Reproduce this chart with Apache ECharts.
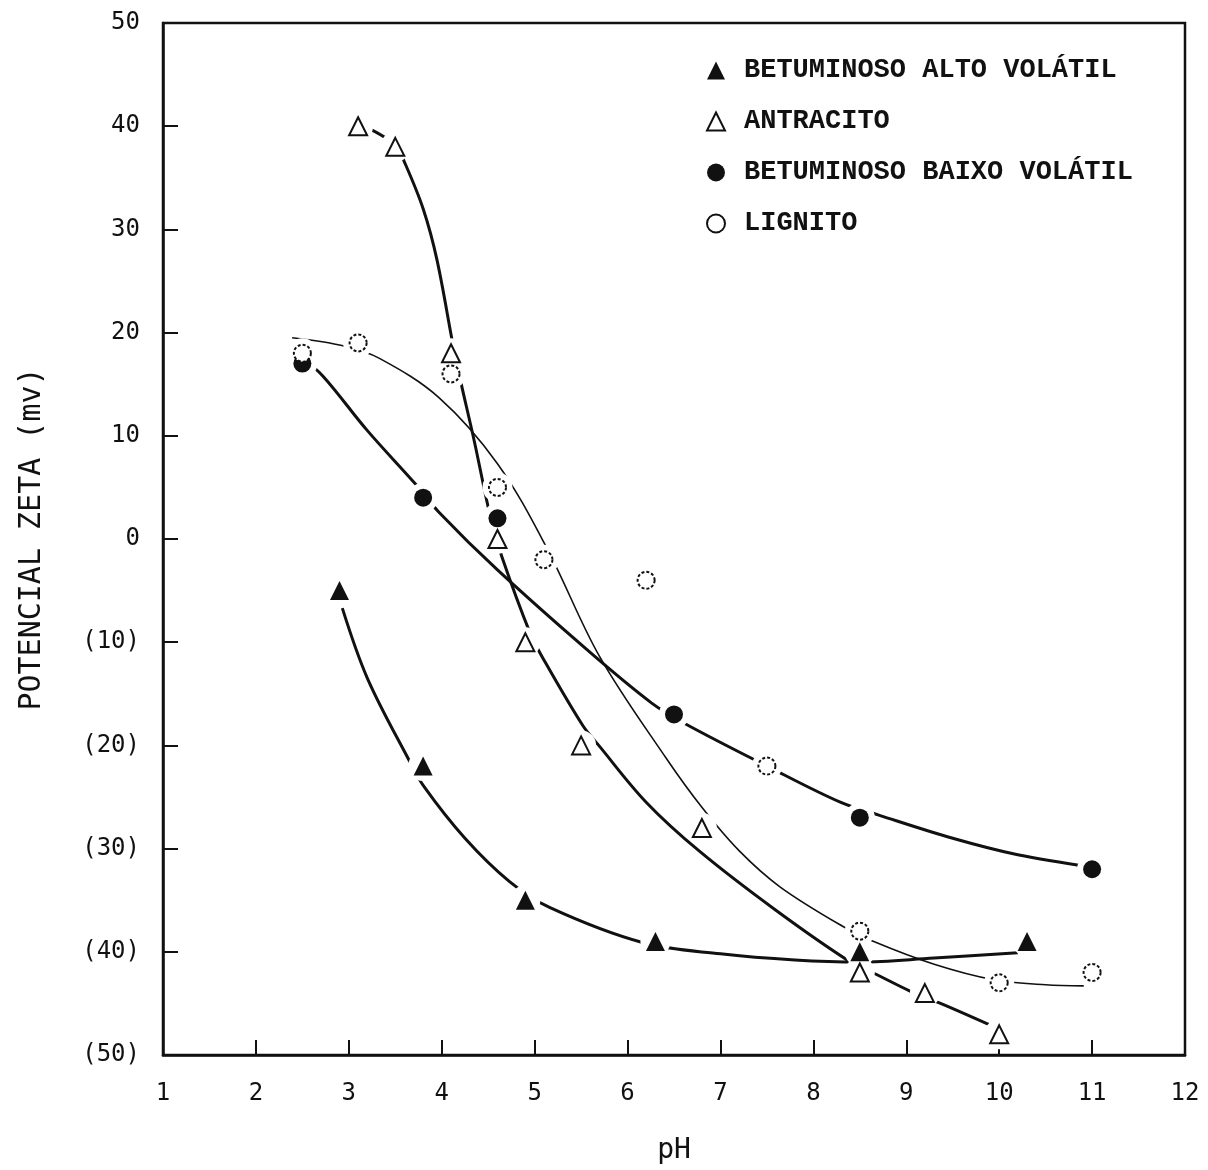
<!DOCTYPE html>
<html>
<head>
<meta charset="utf-8">
<script src="https://cdn.jsdelivr.net/npm/echarts@6/dist/echarts.min.js"></script>
<style>
  html, body { margin: 0; padding: 0; background: #fff; }
  #chart { width: 1208px; height: 1170px; }
</style>
</head>
<body>
<div id="chart"></div>
<script>
// pontos medidos (pH, potencial zeta em mV)
var altoPts = [[2.9, -5], [3.8, -22], [4.9, -35], [6.3, -39], [8.5, -40], [10.3, -39]];
var antracitoPts = [[3.1, 40], [3.5, 38], [4.1, 18], [4.6, 0], [4.9, -10], [5.5, -20], [6.8, -28], [8.5, -42], [9.2, -44], [10, -48]];
var baixoPts = [[2.5, 17], [3.8, 4], [4.6, 2], [6.5, -17], [8.5, -27], [11, -32]];
var lignitoPts = [[2.5, 18], [3.1, 19], [4.1, 16], [4.6, 5], [5.1, -2], [6.2, -4], [7.5, -22], [8.5, -38], [10, -43], [11, -42]];

// curvas ajustadas
var altoCurve = [[2.93, -6.7], [3.2, -13.5], [3.64, -21.3], [3.81, -24], [4.25, -29], [4.73, -33.2], [5.16, -35.7], [6.16, -39.1], [7, -40.2], [7.8, -40.8], [8.5, -41], [9.3, -40.6], [10.2, -40.1]];
var antracitoCurve = [[3.1, 40.3], [3.5, 38.2], [3.6, 36.5], [3.8, 32], [3.95, 27], [4.15, 17.5], [4.35, 9.5], [4.53, 1.9], [4.65, -1.8], [4.95, -9.1], [5.08, -11.4], [5.52, -18.1], [5.69, -20], [6.2, -25.5], [6.78, -30.3], [7.6, -36], [8.4, -41], [8.68, -42.2], [9.04, -43.8], [9.42, -45.2], [10, -47.5]];
var baixoCurve = [[2.5, 17.5], [2.72, 15.8], [3.2, 10.5], [3.73, 5.2], [3.97, 2.6], [4.6, -3], [5.56, -10.7], [6.26, -15.9], [6.62, -17.9], [7.5, -22], [8.29, -25.5], [8.72, -26.8], [9.5, -29], [10.2, -30.6], [11, -31.8]];
var lignitoCurve = [[2.39, 19.5], [2.95, 18.7], [3.33, 17.5], [3.97, 13.7], [4.6, 7.3], [5.13, -0.85], [5.7, -11.4], [6.42, -21.3], [6.8, -26], [7.2, -30.2], [7.64, -33.7], [8.31, -37.5], [8.65, -39], [9.3, -41.2], [9.94, -42.7], [10.5, -43.2], [10.91, -43.3]];

var names = ['BETUMINOSO ALTO VOLÁTIL', 'ANTRACITO', 'BETUMINOSO BAIXO VOLÁTIL', 'LIGNITO'];

var ink = '#111';
var tickFont = { fontFamily: 'DejaVu Sans Mono', fontSize: 24, color: ink };
var nameFont = { fontFamily: 'DejaVu Sans Mono', fontSize: 28, color: ink };

function curve(data, width) {
  return {
    type: 'line', data: data, smooth: 0.35, symbol: 'none', silent: true, z: 2,
    lineStyle: { color: ink, width: width }
  };
}

var chart = echarts.init(document.getElementById('chart'));
chart.setOption({
  backgroundColor: '#fff',
  animation: false,
  grid: { left: 163, right: 23, top: 23, bottom: 110, show: true, borderColor: ink, borderWidth: 2.5 },
  legend: {
    data: names,
    orient: 'vertical',
    left: 701,
    top: 52,
    itemWidth: 18,
    itemHeight: 18,
    itemGap: 24,
    textStyle: { fontFamily: 'Liberation Mono', fontWeight: 'bold', fontSize: 27, lineHeight: 27, color: ink, padding: [0, 0, 0, 14] }
  },
  xAxis: {
    type: 'value', min: 1, max: 12, interval: 1,
    name: 'pH', nameLocation: 'middle', nameGap: 82,
    nameTextStyle: nameFont,
    axisLine: { onZero: false, lineStyle: { color: ink, width: 2.5 } },
    axisTick: { inside: true, length: 15, lineStyle: { color: ink, width: 2 } },
    axisLabel: Object.assign({ margin: 27 }, tickFont),
    splitLine: { show: false }
  },
  yAxis: {
    type: 'value', min: -50, max: 50, interval: 10,
    name: 'POTENCIAL ZETA (mv)', nameLocation: 'middle', nameGap: 116, nameRotate: 90,
    nameTextStyle: Object.assign({}, nameFont, { fontSize: 30 }),
    axisLine: { onZero: false, lineStyle: { color: ink, width: 2.5 } },
    axisTick: { inside: true, length: 15, lineStyle: { color: ink, width: 2 } },
    axisLabel: Object.assign({
      margin: 23,
      formatter: function (v) { return v < 0 ? '(' + (-v) + ')' : '' + v; }
    }, tickFont),
    splitLine: { show: false }
  },
  series: [
    curve(altoCurve, 3),
    curve(antracitoCurve, 3),
    curve(baixoCurve, 3),
    curve(lignitoCurve, 1.6),
    {
      // cortes brancos em volta dos pontos
      type: 'scatter', silent: true, z: 3, symbol: 'circle', symbolSize: 30,
      itemStyle: { color: '#fff', opacity: 1 },
      data: altoPts.concat(antracitoPts, baixoPts, lignitoPts)
    },
    {
      name: names[0], type: 'scatter', z: 4, symbol: 'triangle', symbolSize: 19,
      itemStyle: { color: ink, opacity: 1 },
      data: altoPts
    },
    {
      name: names[1], type: 'scatter', z: 4, symbol: 'triangle', symbolSize: 18,
      itemStyle: { color: '#fff', borderColor: ink, borderWidth: 2, opacity: 1 },
      data: antracitoPts
    },
    {
      name: names[2], type: 'scatter', z: 4, symbol: 'circle', symbolSize: 18,
      itemStyle: { color: ink, opacity: 1 },
      data: baixoPts
    },
    {
      name: names[3], type: 'scatter', z: 4, symbol: 'circle', symbolSize: 17,
      itemStyle: { color: '#fff', borderColor: ink, borderWidth: 2, borderType: [3, 2], opacity: 1 },
      data: lignitoPts
    }
  ]
});
</script>
</body>
</html>
